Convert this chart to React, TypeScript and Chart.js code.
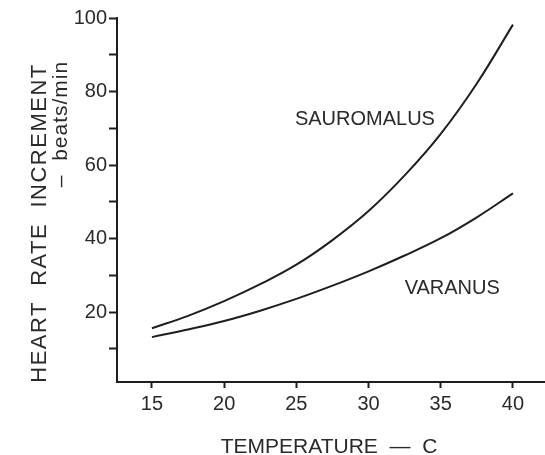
import { useEffect, useRef } from "react";
import { Chart, registerables } from "chart.js";

Chart.register(...registerables);

// ---- data ----
const temperatures = [15, 17.5, 20, 22.5, 25, 27.5, 30, 32.5, 35, 37.5, 40];
const sauromalus = [15.6, 19.0, 23.0, 27.6, 32.9, 39.6, 47.5, 57.2, 68.5, 82.2, 98.2];
const varanus = [13.2, 15.3, 17.6, 20.4, 23.6, 27.2, 31.1, 35.4, 40.1, 45.8, 52.3];
const seriesNames = ["SAUROMALUS", "VARANUS"];
const xTicks = [15, 20, 25, 30, 35, 40];
const yTicks = [10, 20, 30, 40, 50, 60, 70, 80, 90, 100];
const yLabeledTicks = [20, 40, 60, 80, 100];
const xTitle = "TEMPERATURE  \u2014  C";
const yTitleLine1 = "HEART  RATE  INCREMENT";
const yTitleLine2 = "\u2013  beats/min";

// ---- styles / placement (not data) ----
const FONT = '"Liberation Sans", Arial, Helvetica, sans-serif';
const INK = "#1e1e1e";
const TEXT = "#2a2a2a";
const labelAnchors = [
  { x: 24.9, y: 72.3 },
  { x: 32.5, y: 26.4 },
];

const textPlugin = {
  id: "figureTexts",
  afterDraw(chart: any) {
    const ctx = chart.ctx as CanvasRenderingContext2D;
    const xs = chart.scales.x;
    const ys = chart.scales.y;
    ctx.save();
    ctx.fillStyle = TEXT;

    // x title
    ctx.font = `21px ${FONT}`;
    ctx.textAlign = "center";
    ctx.textBaseline = "alphabetic";
    ctx.fillText(xTitle, 329, 453);

    // y title (two rotated lines)
    ctx.save();
    ctx.font = `22px ${FONT}`;
    ctx.translate(46, 223);
    ctx.rotate(-Math.PI / 2);
    (ctx as any).letterSpacing = "1.5px";
    ctx.fillText(yTitleLine1, 0, 0);
    ctx.restore();

    ctx.save();
    ctx.font = `21px ${FONT}`;
    ctx.translate(67, 124);
    ctx.rotate(-Math.PI / 2);
    (ctx as any).letterSpacing = "1px";
    ctx.fillText(yTitleLine2, 0, 0);
    ctx.restore();

    // series labels
    ctx.font = `20px ${FONT}`;
    ctx.textAlign = "left";
    ctx.textBaseline = "middle";
    seriesNames.forEach((name, i) => {
      const a = labelAnchors[i];
      ctx.fillText(name, xs.getPixelForValue(a.x), ys.getPixelForValue(a.y));
    });
    ctx.restore();
  },
};

export default function App() {
  const ref = useRef<HTMLCanvasElement | null>(null);

  useEffect(() => {
    if (!ref.current) return;
    const chart = new Chart(ref.current, {
      type: "line",
      data: {
        datasets: [
          {
            label: seriesNames[0],
            data: temperatures.map((t, i) => ({ x: t, y: sauromalus[i] })),
            borderColor: INK,
            borderWidth: 2,
            pointRadius: 0,
            tension: 0.4,
            fill: false,
          },
          {
            label: seriesNames[1],
            data: temperatures.map((t, i) => ({ x: t, y: varanus[i] })),
            borderColor: INK,
            borderWidth: 2,
            pointRadius: 0,
            tension: 0.4,
            fill: false,
          },
        ],
      },
      options: {
        animation: false,
        responsive: false,
        layout: { padding: { top: 18, right: 0, bottom: 0, left: 0 } },
        plugins: {
          legend: { display: false },
          tooltip: { enabled: false },
          title: { display: false },
        },
        scales: {
          x: {
            type: "linear",
            min: 12.58,
            max: 42.22,
            afterBuildTicks: (scale: any) => {
              scale.ticks = xTicks.map((v) => ({ value: v }));
            },
            afterFit: (scale: any) => {
              scale.height = 73;
            },
            grid: {
              display: true,
              drawOnChartArea: false,
              drawTicks: true,
              tickLength: 6,
              tickWidth: 2,
              tickColor: INK,
              color: INK,
            },
            border: { display: true, color: INK, width: 2 },
            ticks: {
              color: TEXT,
              font: { family: FONT, size: 20 },
              padding: 4,
              maxRotation: 0,
              autoSkip: false,
            },
          },
          y: {
            type: "linear",
            min: 1,
            max: 100,
            afterBuildTicks: (scale: any) => {
              scale.ticks = yTicks.map((v) => ({ value: v }));
            },
            afterFit: (scale: any) => {
              scale.width = 117;
            },
            grid: {
              display: true,
              drawOnChartArea: false,
              drawTicks: true,
              tickLength: 8,
              tickWidth: 2,
              tickColor: INK,
              color: INK,
            },
            border: { display: true, color: INK, width: 2 },
            ticks: {
              color: TEXT,
              font: { family: FONT, size: 20 },
              padding: 2,
              autoSkip: false,
              callback: (v: any) => (yLabeledTicks.includes(Number(v)) ? String(v) : ""),
            },
          },
        },
      },
      plugins: [textPlugin],
    } as any);
    return () => chart.destroy();
  }, []);

  return (
    <div style={{ position: "absolute", left: 0, top: 0, width: 545, height: 455, background: "#fff" }}>
      <canvas ref={ref} width={545} height={455} style={{ display: "block" }} />
    </div>
  );
}
